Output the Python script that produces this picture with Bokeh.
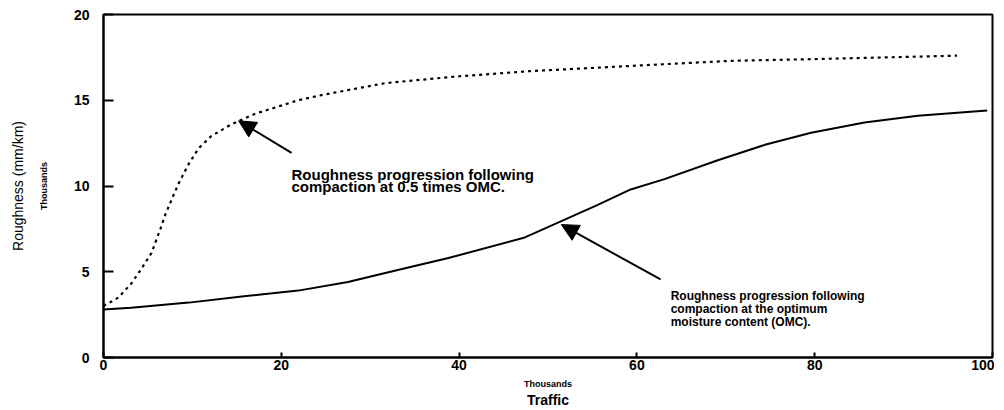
import math
from bokeh.plotting import figure
from bokeh.models import Label, Arrow, NormalHead, Range1d, FixedTicker, LinearAxis
from bokeh.embed import file_html
from bokeh.resources import INLINE

# ---- data ----
dotted_x = [0, 1.7, 3.1, 4.3, 5.4, 6.4, 7.0, 8.4, 9.6, 10.7, 12.1, 14.4, 17, 21.9,
            24.5, 31.7, 40, 48, 55.6, 63, 70.6, 80, 88, 96]
dotted_y = [3.0, 3.5, 4.3, 5.2, 6.1, 7.5, 8.4, 10.1, 11.3, 12.2, 12.9, 13.6, 14.2, 15.0,
            15.3, 16.0, 16.4, 16.7, 16.9, 17.1, 17.3, 17.4, 17.5, 17.6]
solid_x = [0, 3.1, 9.6, 16.3, 21.9, 27.5, 33.1, 38.8, 47.4, 55.6, 59.3, 63.1, 69.1,
           74.4, 79.6, 85.6, 91.6, 99.4]
solid_y = [2.8, 2.9, 3.2, 3.6, 3.9, 4.4, 5.1, 5.8, 7.0, 8.9, 9.8, 10.4, 11.5,
           12.4, 13.1, 13.7, 14.1, 14.4]
x_ticks = [0, 20, 40, 60, 80, 100]
y_ticks = [0, 5, 10, 15, 20]

FONT = "Liberation Sans"

p = figure(width=994, height=410, output_backend="svg", toolbar_location=None,
           x_range=Range1d(0, 100), y_range=Range1d(0, 20),
           min_border_left=103, min_border_right=2, min_border_top=14, min_border_bottom=49)
p.grid.visible = False
p.outline_line_color = "black"
p.outline_line_width = 2
p.background_fill_color = "white"
p.border_fill_color = "white"

for ax in (p.xaxis[0], p.yaxis[0]):
    ax.axis_line_width = 2
    ax.axis_line_color = "black"
    ax.major_tick_out = 0
    ax.minor_tick_out = 0
    ax.minor_tick_in = 0
    ax.major_tick_line_width = 2
    ax.major_label_text_font = FONT
    ax.major_label_text_font_style = "bold"
    ax.major_label_text_font_size = "14px"
    ax.major_label_text_color = "black"
    ax.axis_label_text_font = FONT
    ax.axis_label_text_font_style = "bold"
    ax.axis_label_text_color = "black"

p.xaxis.ticker = FixedTicker(ticks=x_ticks)
p.yaxis.ticker = FixedTicker(ticks=y_ticks)
p.xaxis.major_tick_in = 5
p.yaxis.major_tick_in = 10
p.xaxis.major_label_standoff = 2
p.yaxis.major_label_standoff = 14

# inner axis labels ("Thousands")
p.xaxis.axis_label = "Thousands"
p.xaxis.axis_label_text_font_size = "9px"
p.xaxis.axis_label_standoff = 6
p.yaxis.axis_label = "Thousands"
p.yaxis.axis_label_text_font_size = "9px"
p.yaxis.axis_label_standoff = 22

# outer axis titles
def blank_axis(label, size, standoff, style):
    a = LinearAxis(ticker=FixedTicker(ticks=[]), axis_line_color=None,
                   major_tick_out=0, major_tick_in=0, minor_tick_out=0, minor_tick_in=0,
                   major_label_standoff=0, axis_label=label,
                   axis_label_text_font=FONT, axis_label_text_font_size=size,
                   axis_label_text_font_style=style, axis_label_text_color="black",
                   axis_label_standoff=standoff)
    return a

p.add_layout(blank_axis("Traffic", "14px", 0, "bold"), "below")
p.add_layout(blank_axis("Roughness (mm/km)", "14px", 10, "normal"), "left")

p.line(solid_x, solid_y, line_color="black", line_width=2)
p.line(dotted_x, dotted_y, line_color="black", line_width=2.2, line_dash="3 4")

# arrows
p.add_layout(Arrow(end=NormalHead(size=17, fill_color="black", line_color="black"),
                   x_start=21.15, y_start=11.93, x_end=15.2, y_end=13.8,
                   line_width=2, line_color="black"))
p.add_layout(Arrow(end=NormalHead(size=17, fill_color="black", line_color="black"),
                   x_start=62.66, y_start=4.55, x_end=51.5, y_end=7.75,
                   line_width=2, line_color="black"))

def lab(x, y, t, size, style="bold", align="left", baseline="alphabetic"):
    p.add_layout(Label(x=x, y=y, text=t, text_font=FONT, text_font_size=size,
                       text_font_style=style, text_align=align,
                       text_baseline=baseline, text_color="black"))

lab(21.15, 10.66, "Roughness progression following", "15px")
lab(21.15, 9.97, "compaction at 0.5 times OMC.", "15px")

lab(63.8, 3.57, "Roughness progression following", "12px")
lab(63.8, 2.82, "compaction at the optimum", "12px")
lab(63.8, 2.07, "moisture content (OMC).", "12px")

open("out.html", "w").write(file_html(p, INLINE))
